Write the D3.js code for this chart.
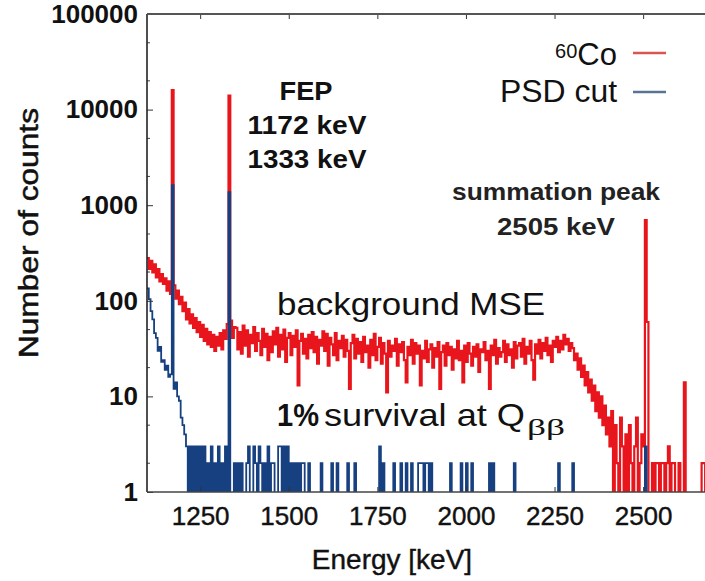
<!DOCTYPE html>
<html><head><meta charset="utf-8">
<script src="https://cdn.jsdelivr.net/npm/d3@7"></script>
<style>body{margin:0;background:#fff;} svg{display:block;}</style>
</head><body><svg id="c" width="705" height="581"></svg>
<script>
// ---- data (counts per 5 keV bin, starting at 1100 keV) ----
const binStart = 1100;
const binWidth = 5;
const coCounts = [
 280,215,262,198,240,176,215,160,190,150,
 172,128,160,118,16000,145,105,128,92,110,
 78,96,64,82,58,72,52,66,47,60,
 42,56,38,51,35,47,33,44,30,42,
 34,46,31,49,40,57,14000,62,41,53,
 52,31,47,28,55,34,49,26,44,36,
 53,30,46,38,27,51,33,45,24,42,
 29,48,35,52,26,44,31,50,23,41,
 46,27,43,33,49,13,38,45,28,40,
 25,44,32,47,29,42,22,39,34,48,
 30,45,21,41,35,27,46,24,38,32,
 43,26,39,30,12,36,44,25,40,28,
 37,23,42,29,34,20,39,27,45,24,
 33,41,22,36,28,11,38,26,34,30,
 40,21,35,29,37,24,14,33,27,39,
 22,36,28,34,13,30,25,38,23,31,
 35,20,32,26,37,12,29,34,21,36,
 27,33,19,31,25,38,24,30,14,34,
 23,36,28,21,33,26,35,18,31,29,
 37,24,30,12,34,27,39,22,32,26,
 29,38,23,35,27,31,20,37,25,34,
 36,26,40,22,33,28,38,24,15,35,
 28,39,25,36,30,41,27,34,23,38,
 33,42,29,38,31,44,35,40,30,36,
 32,24,28,19,25,16,21,13,18,11,
 15,9,13,7,11,6,10,5,8,4,
 6,3,7,0,5,2,0,6,3,0,
 4,0,5,2,0,3,6,0,2,4,
 3,700,60,0,0,2,0,2,2,0,
 2,2,0,2,3,0,2,2,0,0,
 2,0,0,14,0,0,0,0,0,0,
 0,0,0,2,2,0,2,0,0,0
];
const psdCounts = [
 135,104,78,64,46,41,30,33,23,24,
 19,21,16,17,1620,12,14,10,9,6,
 5,4,3,0,3,0,3,0,3,0,
 3,0,3,0,2,0,3,0,2,0,
 3,0,2,0,3,0,1370,0,0,2,
 0,2,0,2,0,0,2,3,0,0,
 3,2,0,3,2,0,2,0,3,0,
 2,2,0,0,3,3,0,3,0,3,
 0,2,0,2,0,2,0,2,2,0,
 0,2,0,0,0,0,0,0,2,0,
 0,0,0,0,2,0,0,2,0,0,
 0,0,0,2,0,0,0,2,0,0,
 0,0,0,0,0,0,0,0,0,0,
 0,3,0,2,0,0,0,0,0,2,
 0,0,0,2,0,0,2,0,0,2,
 0,0,0,2,2,2,0,2,2,0,
 2,0,0,0,0,0,0,0,0,0,
 0,2,0,0,0,0,0,2,0,0,
 2,0,0,2,0,0,0,0,0,0,
 0,0,0,2,0,2,0,0,0,0,
 0,0,0,0,0,0,0,2,0,0,
 0,0,0,0,0,0,0,0,0,0,
 0,0,0,0,0,0,0,0,0,0,
 0,0,2,0,0,0,0,0,0,0,
 2,0,0,0,0,0,0,0,0,0,
 0,0,0,0,0,0,0,0,0,0,
 0,0,0,0,0,0,0,0,0,0,
 0,0,0,0,0,0,0,0,0,0,
 0,3,0,0,0,0,0,0,0,0,
 0,0,0,0,0,0,0,0,0,0,
 0,0,0,0,0,0,0,0,0,0,
 0,0,0,0,0,0,0,0,0,0
];
const xTickValues = [1250, 1500, 1750, 2000, 2250, 2500];
const yTickValues = [1, 10, 100, 1000, 10000, 100000];
const yMinorValues = [2, 5, 20, 50, 200, 500, 2000, 5000, 20000, 50000];
const xDomain = [1100, 2700];
const yDomain = [1, 100000];

// ---- layout ----
const L = 147, T = 14, B = 492, R = 714;
const FONT = "'Liberation Sans', Arial, Helvetica, sans-serif";
const RED = "#e8161c", BLUE = "#16407f";

const svg = d3.select("#c");
const x = d3.scaleLinear().domain(xDomain).range([L, R]);
const y = d3.scaleLog().domain(yDomain).range([B, T]);

svg.append("defs").append("clipPath").attr("id", "plot")
  .append("rect").attr("x", L).attr("y", T).attr("width", R - L).attr("height", B - T);

function toPoints(arr) {
  const pts = arr.map((c, i) => ({ e: binStart + i * binWidth, c }));
  pts.push({ e: binStart + arr.length * binWidth, c: arr[arr.length - 1] });
  return pts;
}
const line = d3.line()
  .x(d => x(d.e))
  .y(d => y(Math.max(d.c, 0.3)))
  .curve(d3.curveStepAfter);

const plot = svg.append("g").attr("clip-path", "url(#plot)");
plot.append("path").datum(toPoints(coCounts))
  .attr("d", line).attr("fill", "none").attr("stroke", RED).attr("stroke-width", 2.2);
plot.append("path").datum(toPoints(psdCounts))
  .attr("d", line).attr("fill", "none").attr("stroke", BLUE).attr("stroke-width", 1.8);

// ---- axes ----
const gy = svg.append("g").attr("transform", `translate(${L},0)`)
  .call(d3.axisLeft(y).tickValues(yTickValues).tickFormat(d3.format("d"))
    .tickSizeInner(-6).tickSizeOuter(0).tickPadding(9));
gy.select(".domain").remove();
gy.selectAll("line").attr("stroke", "#333");
gy.selectAll("text").attr("font-family", FONT).attr("font-size", 26)
  .attr("font-weight", "bold").attr("fill", "#111");

svg.append("g").selectAll("line").data(yMinorValues).join("line")
  .attr("x1", L).attr("x2", L + 3).attr("y1", d => y(d)).attr("y2", d => y(d))
  .attr("stroke", "#444");

const gx = svg.append("g").attr("transform", `translate(0,${B})`)
  .call(d3.axisBottom(x).tickValues(xTickValues).tickFormat(d3.format("d"))
    .tickSizeInner(-5).tickSizeOuter(0).tickPadding(15));
gx.select(".domain").remove();
gx.selectAll("line").attr("stroke", "#333");
gx.selectAll("text").attr("font-family", FONT).attr("font-size", 26).attr("fill", "#111")
  .attr("stroke", "#111").attr("stroke-width", 0.4);

const gt = svg.append("g").attr("transform", `translate(0,${T})`)
  .call(d3.axisTop(x).tickValues(xTickValues).tickFormat("")
    .tickSizeInner(-5).tickSizeOuter(0));
gt.select(".domain").remove();
gt.selectAll("line").attr("stroke", "#333");

// frame
svg.append("line").attr("x1", L).attr("x2", L).attr("y1", T).attr("y2", B)
  .attr("stroke", "#222").attr("stroke-width", 1.6);
svg.append("line").attr("x1", L).attr("x2", 705).attr("y1", T).attr("y2", T)
  .attr("stroke", "#555").attr("stroke-width", 1.8);
svg.append("line").attr("x1", L).attr("x2", 705).attr("y1", B).attr("y2", B)
  .attr("stroke", "#444").attr("stroke-width", 1.4);

// axis titles
svg.append("text").attr("transform", "translate(38,233) rotate(-90)")
  .attr("text-anchor", "middle").attr("font-family", FONT).attr("font-size", 27)
  .attr("textLength", 250).attr("lengthAdjust", "spacingAndGlyphs")
  .attr("fill", "#111").attr("stroke", "#111").attr("stroke-width", 0.5).text("Number of counts");
svg.append("text").attr("x", 392).attr("y", 569)
  .attr("text-anchor", "middle").attr("font-family", FONT).attr("font-size", 28)
  .attr("fill", "#111").attr("stroke", "#111").attr("stroke-width", 0.4).text("Energy [keV]");

// legend
const lg = svg.append("g").attr("font-family", FONT).attr("fill", "#111");
const t1 = lg.append("text").attr("x", 617).attr("y", 65).attr("text-anchor", "end").attr("font-size", 31);
t1.append("tspan").attr("font-size", 20).attr("dy", -7).text("60");
t1.append("tspan").attr("dy", 7).text("Co");
lg.append("text").attr("x", 617).attr("y", 102).attr("text-anchor", "end").attr("font-size", 31)
  .attr("textLength", 117).attr("lengthAdjust", "spacingAndGlyphs").text("PSD cut");
lg.append("line").attr("x1", 633).attr("x2", 666).attr("y1", 53).attr("y2", 53)
  .attr("stroke", "#dc5450").attr("stroke-width", 2.5);
lg.append("line").attr("x1", 633).attr("x2", 666).attr("y1", 92).attr("y2", 92)
  .attr("stroke", "#5b7392").attr("stroke-width", 2.5);

// annotations
const ann = svg.append("g").attr("font-family", FONT).attr("fill", "#111");
function label(txt, cx, by, size, w, bold) {
  return ann.append("text").attr("x", cx).attr("y", by).attr("text-anchor", "middle")
    .attr("font-size", size).attr("font-weight", bold ? "bold" : "normal")
    .attr("textLength", w).attr("lengthAdjust", "spacingAndGlyphs").text(txt);
}
label("FEP", 306, 100, 25, 53, true);
label("1172 keV", 307, 134, 25, 119, true);
label("1333 keV", 307, 168, 25, 119, true);
label("summation peak", 556, 200, 24, 208, true).attr("fill", "#222");
label("2505 keV", 556, 235, 24, 118, true).attr("fill", "#222");
ann.append("text").attr("x", 277).attr("y", 315).attr("font-size", 32)
  .attr("textLength", 268).attr("lengthAdjust", "spacingAndGlyphs").text("background MSE");
const sv = ann.append("text").attr("y", 426).attr("font-size", 32);
sv.append("tspan").attr("x", 277).attr("font-weight", "bold")
  .attr("textLength", 42).attr("lengthAdjust", "spacingAndGlyphs").text("1%");
sv.append("tspan").attr("x", 324).attr("textLength", 201).attr("lengthAdjust", "spacingAndGlyphs")
  .text("survival at Q");
sv.append("tspan").attr("x", 527).attr("dy", 9).attr("font-size", 24)
  .attr("font-family", "'Liberation Serif', 'Times New Roman', serif")
  .attr("textLength", 38).attr("lengthAdjust", "spacingAndGlyphs").text("ββ");
</script>
</body></html>
